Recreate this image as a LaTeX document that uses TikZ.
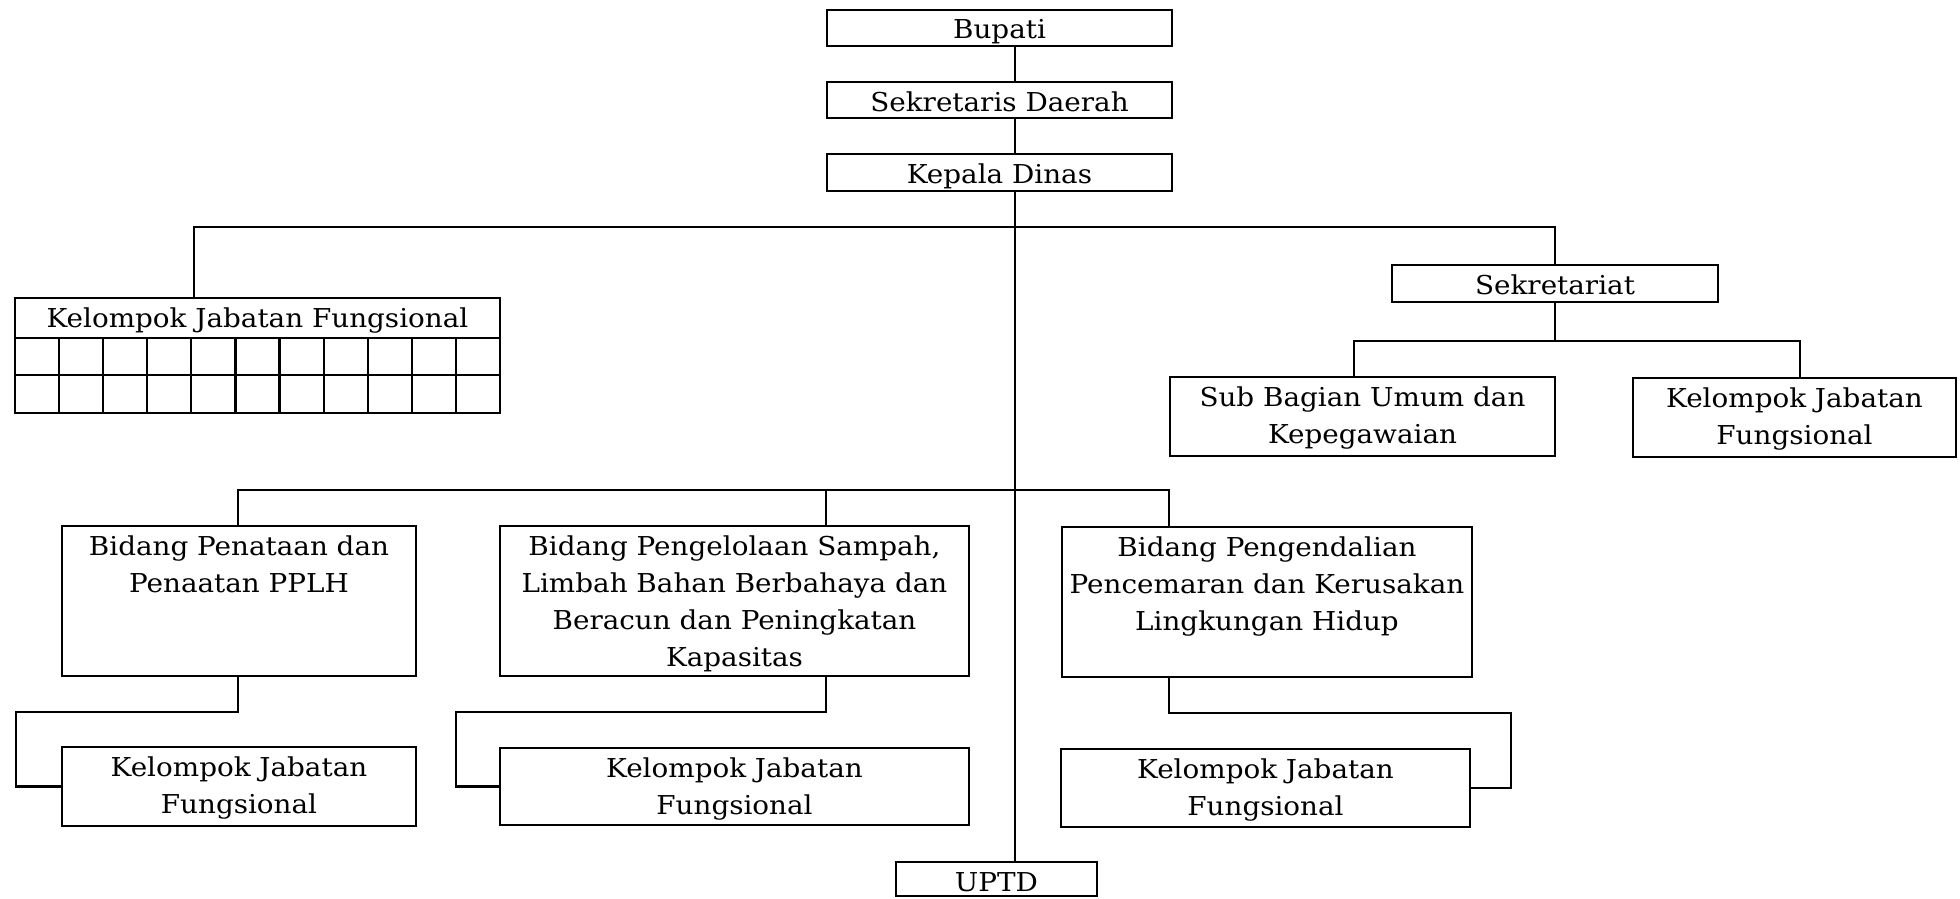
\documentclass[tikz,border=0pt]{standalone}
\usepackage{fontspec}
\setmainfont{DejaVu Serif}[FakeStretch=1.07]
\usetikzlibrary{calc}
\tikzset{
  orgbox/.style={draw, line width=1.1pt, inner sep=0pt, rectangle},
  conn/.style={line width=1.1pt, line cap=rect},
}
% name, x1, y1, x2, y2 (px), text
\newcommand\OBox[6]{%
  \node[orgbox] (#1) at ({(#2+#4)/2},{(#3+#5)/2})
    {\parbox[c][\dimexpr(#5pt-#3pt)/2\relax][t]{\dimexpr(#4pt-#2pt)/2\relax}{\centering\rule{0pt}{14.5pt}#6\par}};}
\begin{document}
\begin{tikzpicture}[x=0.5pt,y=-0.5pt,font=\fontsize{13pt}{18.5pt}\selectfont]
\useasboundingbox (0,0) rectangle (1960,899);
\fill[white] (0,0) rectangle (1960,899);

% top chain
\OBox{bupati}{827}{10}{1172}{46}{Bupati}
\OBox{sekda}{827}{82}{1172}{118}{Sekretaris Daerah}
\OBox{kadis}{827}{154}{1172}{191}{Kepala Dinas}

% functional group grid
\OBox{kjfg}{15}{298}{500}{413}{Kelompok Jabatan Fungsional}
\draw[conn] (15,338) -- (500,338);
\draw[conn] (15,375) -- (500,375);
\foreach \i in {1,...,10} \draw[conn] ({15+\i*44.09},338) -- ({15+\i*44.09},413);

% secretariat
\OBox{sekret}{1392}{265}{1718}{302}{Sekretariat}
\OBox{subbag}{1170}{377}{1555}{456}{Sub Bagian Umum dan\\Kepegawaian}
\OBox{kjfsek}{1633}{378}{1956}{457}{Kelompok Jabatan\\Fungsional}

% bidang
\OBox{bid1}{62}{526}{416}{676}{Bidang Penataan dan\\Penaatan PPLH}
\OBox{bid2}{500}{526}{969}{676}{Bidang Pengelolaan Sampah,\\Limbah Bahan Berbahaya dan\\Beracun dan Peningkatan\\Kapasitas}
\OBox{bid3}{1062}{527}{1472}{677}{Bidang Pengendalian\\Pencemaran dan Kerusakan\\Lingkungan Hidup}

\OBox{kjf1}{62}{747}{416}{826}{Kelompok Jabatan\\Fungsional}
\OBox{kjf2}{500}{748}{969}{825}{Kelompok Jabatan\\Fungsional}
\OBox{kjf3}{1061}{749}{1470}{827}{Kelompok Jabatan\\Fungsional}

\OBox{uptd}{896}{862}{1097}{896}{UPTD}

% connectors
\coordinate (spine) at (1015,0);
\draw[conn] (bupati.south -| spine) -- (sekda.north -| spine);
\draw[conn] (sekda.south -| spine) -- (kadis.north -| spine);
\draw[conn] (kadis.south -| spine) -- (uptd.north -| spine);

\coordinate (t1) at (194,227);
\draw[conn] (kjfg.north -| t1) |- (sekret.north |- t1) -- (sekret.north);

\coordinate (s1) at (1354,341);
\coordinate (s2) at (1800,341);
\draw[conn] (sekret.south) -- (sekret.south |- s1);
\draw[conn] (subbag.north -| s1) |- (s2) -- (kjfsek.north -| s2);

\coordinate (b1) at (238,490);
\coordinate (b2) at (826,490);
\coordinate (b3) at (1169,490);
\draw[conn] (bid1.north -| b1) |- (b3) -- (bid3.north -| b3);
\draw[conn] (b2) -- (bid2.north -| b2);

\coordinate (c1) at (238,712);
\coordinate (c1x) at (16,0);
\draw[conn] (bid1.south -| c1) -- (c1) -| (kjf1.west -| c1x) -- (kjf1.west);
\coordinate (c2) at (826,712);
\coordinate (c2x) at (456,0);
\draw[conn] (bid2.south -| c2) -- (c2) -| (kjf2.west -| c2x) -- (kjf2.west);
\coordinate (c3) at (1169,713);
\coordinate (c3x) at (1511,0);
\draw[conn] (bid3.south -| c3) -- (c3) -| (kjf3.east -| c3x) -- (kjf3.east);
\end{tikzpicture}
\end{document}
